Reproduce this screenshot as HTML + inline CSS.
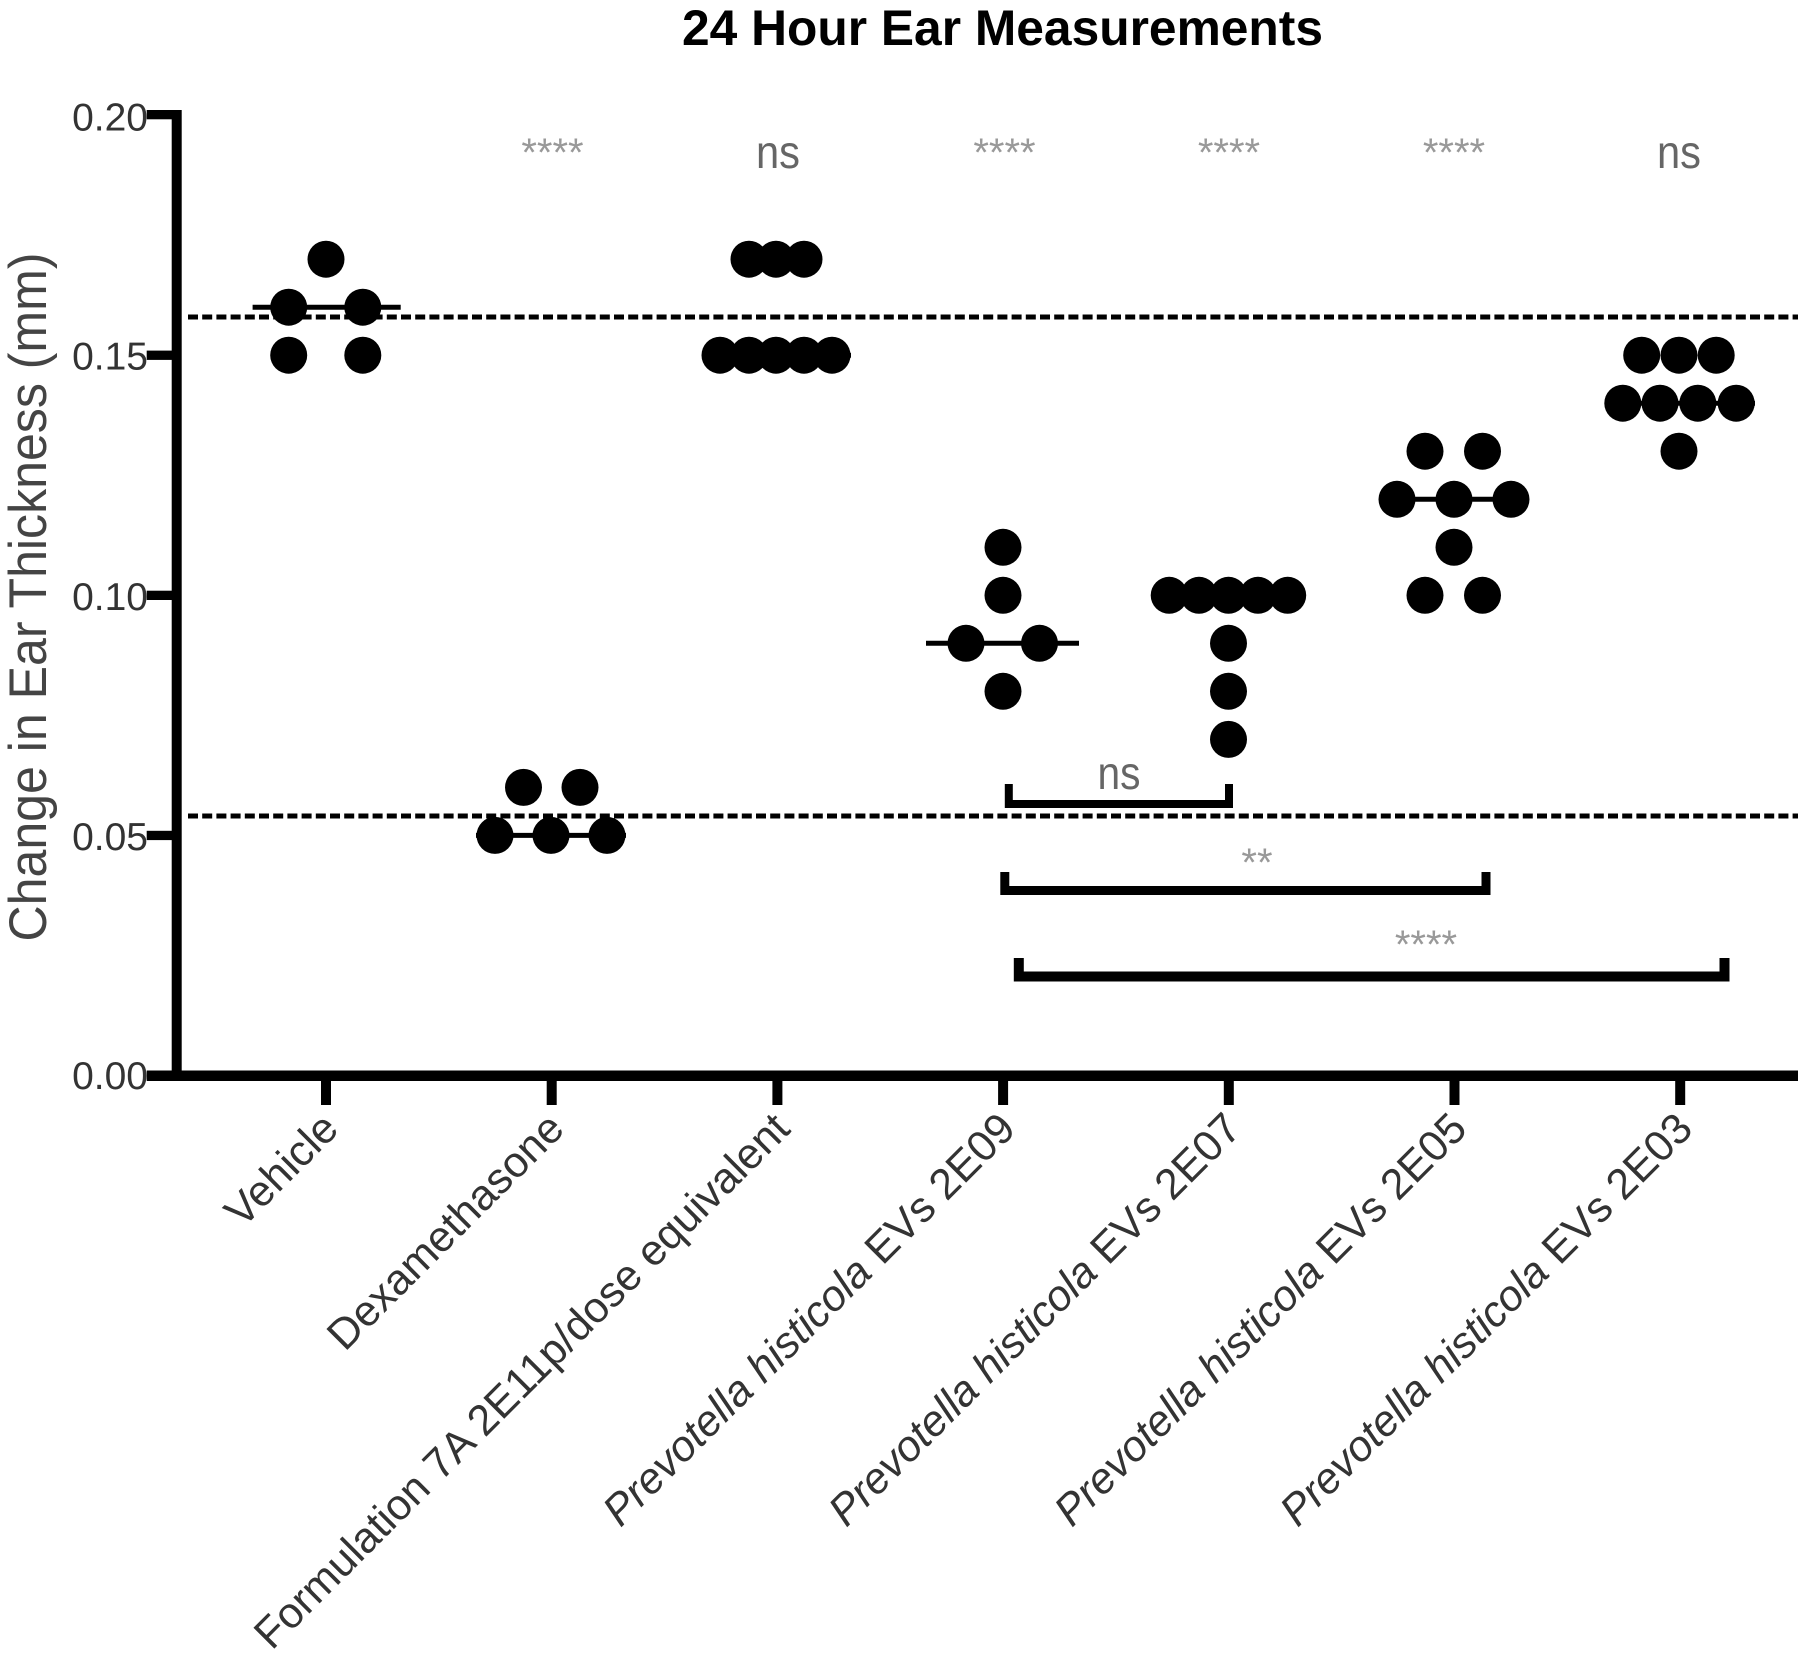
<!DOCTYPE html>
<html>
<head>
<meta charset="utf-8">
<style>
  html,body{margin:0;padding:0;background:#fff;}
  svg{display:block;}
  text{font-family:"Liberation Sans", Arial, sans-serif;}
</style>
</head>
<body>
<svg width="1798" height="1656" viewBox="0 0 1798 1656" xmlns="http://www.w3.org/2000/svg">
  <rect width="1798" height="1656" fill="#fff"/>

  <!-- Title -->
  <text x="1002.5" y="45" font-size="50" font-weight="bold" text-anchor="middle" textLength="641" lengthAdjust="spacingAndGlyphs" fill="#000">24 Hour Ear Measurements</text>

  <!-- Y axis label -->
  <text transform="translate(46,597) rotate(-90)" font-size="53" text-anchor="middle" textLength="689" lengthAdjust="spacingAndGlyphs" fill="#444">Change in Ear Thickness (mm)</text>

  <!-- Dashed reference lines -->
  <line x1="188" y1="317" x2="1798" y2="317" stroke="#000" stroke-width="5" stroke-dasharray="10 4.2"/>
  <line x1="188" y1="816" x2="1798" y2="816" stroke="#000" stroke-width="5" stroke-dasharray="10 4.2"/>

  <!-- Axes -->
  <rect x="171.7" y="110" width="10" height="971" fill="#000"/>
  <rect x="171.7" y="1070.5" width="1626.3" height="10.5" fill="#000"/>

  <!-- Y ticks -->
  <g fill="#000">
    <rect x="146.7" y="110" width="30" height="9.3"/>
    <rect x="146.7" y="350.6" width="30" height="9.3"/>
    <rect x="146.7" y="590.7" width="30" height="9.3"/>
    <rect x="146.7" y="830.8" width="30" height="9.3"/>
    <rect x="146.7" y="1070.5" width="30" height="10.5"/>
  </g>
  <g font-size="39" text-anchor="end" fill="#333">
    <text x="148" y="130.5">0.20</text>
    <text x="148" y="369.7">0.15</text>
    <text x="148" y="609.8">0.10</text>
    <text x="148" y="849.9">0.05</text>
    <text x="148" y="1089">0.00</text>
  </g>

  <!-- X ticks -->
  <g fill="#000">
    <rect x="321" y="1075" width="10" height="30"/>
    <rect x="546.7" y="1075" width="10" height="30"/>
    <rect x="772.4" y="1075" width="10" height="30"/>
    <rect x="998.1" y="1075" width="10" height="30"/>
    <rect x="1223.8" y="1075" width="10" height="30"/>
    <rect x="1449.5" y="1075" width="10" height="30"/>
    <rect x="1675.2" y="1075" width="10" height="30"/>
  </g>

  <!-- X labels -->
  <g font-size="43" text-anchor="end" fill="#333">
    <text transform="translate(340.6,1131) rotate(-45)">Vehicle</text>
    <text transform="translate(566.3,1131) rotate(-45)">Dexamethasone</text>
    <text transform="translate(792,1131) rotate(-45)">Formulation 7A 2E11p/dose equivalent</text>
    <text transform="translate(1017.7,1131) rotate(-45)"><tspan font-style="italic">Prevotella histicola</tspan> EVs 2E09</text>
    <text transform="translate(1243.4,1131) rotate(-45)"><tspan font-style="italic">Prevotella histicola</tspan> EVs 2E07</text>
    <text transform="translate(1469.1,1131) rotate(-45)"><tspan font-style="italic">Prevotella histicola</tspan> EVs 2E05</text>
    <text transform="translate(1694.8,1131) rotate(-45)"><tspan font-style="italic">Prevotella histicola</tspan> EVs 2E03</text>
  </g>

  <!-- Median lines -->
  <g stroke="#000" stroke-width="5">
    <line x1="252.6" y1="307.2" x2="400.7" y2="307.2"/>
    <line x1="476" y1="835.4" x2="626" y2="835.4"/>
    <line x1="702" y1="355.2" x2="851" y2="355.2"/>
    <line x1="926" y1="643.3" x2="1079" y2="643.3"/>
    <line x1="1153" y1="595.3" x2="1303" y2="595.3"/>
    <line x1="1379" y1="499.3" x2="1529" y2="499.3"/>
    <line x1="1605" y1="403.2" x2="1755" y2="403.2"/>
  </g>

  <!-- Data points -->
  <g fill="#000">
    <!-- Vehicle -->
    <circle cx="326" cy="259.2" r="18.5"/>
    <circle cx="288.7" cy="307.2" r="18.5"/>
    <circle cx="362.8" cy="307.2" r="18.5"/>
    <circle cx="288.7" cy="355.2" r="18.5"/>
    <circle cx="362.8" cy="355.2" r="18.5"/>
    <!-- Dexamethasone -->
    <circle cx="523.5" cy="787.4" r="18.5"/>
    <circle cx="580" cy="787.4" r="18.5"/>
    <circle cx="495" cy="835.4" r="18.5"/>
    <circle cx="551" cy="835.4" r="18.5"/>
    <circle cx="607" cy="835.4" r="18.5"/>
    <!-- Formulation -->
    <circle cx="749" cy="259.2" r="18.5"/>
    <circle cx="776" cy="259.2" r="18.5"/>
    <circle cx="804" cy="259.2" r="18.5"/>
    <circle cx="720" cy="355.2" r="18.5"/>
    <circle cx="749" cy="355.2" r="18.5"/>
    <circle cx="776" cy="355.2" r="18.5"/>
    <circle cx="804" cy="355.2" r="18.5"/>
    <circle cx="832" cy="355.2" r="18.5"/>
    <!-- 2E09 -->
    <circle cx="1003" cy="547.3" r="18.5"/>
    <circle cx="1003" cy="595.3" r="18.5"/>
    <circle cx="966" cy="643.3" r="18.5"/>
    <circle cx="1039.5" cy="643.3" r="18.5"/>
    <circle cx="1003" cy="691.3" r="18.5"/>
    <!-- 2E07 -->
    <circle cx="1169.2" cy="595.3" r="18.5"/>
    <circle cx="1199" cy="595.3" r="18.5"/>
    <circle cx="1228.5" cy="595.3" r="18.5"/>
    <circle cx="1258" cy="595.3" r="18.5"/>
    <circle cx="1287.7" cy="595.3" r="18.5"/>
    <circle cx="1228.5" cy="643.3" r="18.5"/>
    <circle cx="1228.5" cy="691.3" r="18.5"/>
    <circle cx="1228.5" cy="739.4" r="18.5"/>
    <!-- 2E05 -->
    <circle cx="1425" cy="451.2" r="18.5"/>
    <circle cx="1482.5" cy="451.2" r="18.5"/>
    <circle cx="1397" cy="499.3" r="18.5"/>
    <circle cx="1454" cy="499.3" r="18.5"/>
    <circle cx="1511" cy="499.3" r="18.5"/>
    <circle cx="1454" cy="547.3" r="18.5"/>
    <circle cx="1425" cy="595.3" r="18.5"/>
    <circle cx="1482.5" cy="595.3" r="18.5"/>
    <!-- 2E03 -->
    <circle cx="1641.7" cy="355.2" r="18.5"/>
    <circle cx="1679" cy="355.2" r="18.5"/>
    <circle cx="1716.2" cy="355.2" r="18.5"/>
    <circle cx="1622.8" cy="403.2" r="18.5"/>
    <circle cx="1660" cy="403.2" r="18.5"/>
    <circle cx="1697.8" cy="403.2" r="18.5"/>
    <circle cx="1736.2" cy="403.2" r="18.5"/>
    <circle cx="1679" cy="451.2" r="18.5"/>
  </g>

  <!-- Top significance labels -->
  <g font-size="40" text-anchor="middle" fill="#999">
    <text x="552.5" y="166">****</text>
    <text x="1004.5" y="166">****</text>
    <text x="1229" y="166">****</text>
    <text x="1454" y="166">****</text>
  </g>
  <g font-size="46" text-anchor="middle" fill="#666">
    <text x="778" y="168" textLength="44" lengthAdjust="spacingAndGlyphs">ns</text>
    <text x="1679" y="168" textLength="44" lengthAdjust="spacingAndGlyphs">ns</text>
  </g>

  <!-- Comparison brackets -->
  <g fill="none" stroke="#000" stroke-linejoin="miter" stroke-linecap="butt">
    <path d="M1008.8,784 V804 H1229 V784" stroke-width="8"/>
    <path d="M1004.8,872 V890.5 H1486 V872" stroke-width="9"/>
    <path d="M1018.8,958 V976.5 H1724.5 V958" stroke-width="10"/>
  </g>
  <text x="1119" y="789" font-size="46" text-anchor="middle" fill="#666" textLength="43" lengthAdjust="spacingAndGlyphs">ns</text>
  <text x="1257" y="876" font-size="40" text-anchor="middle" fill="#999">**</text>
  <text x="1426" y="958" font-size="40" text-anchor="middle" fill="#999">****</text>
</svg>
</body>
</html>
